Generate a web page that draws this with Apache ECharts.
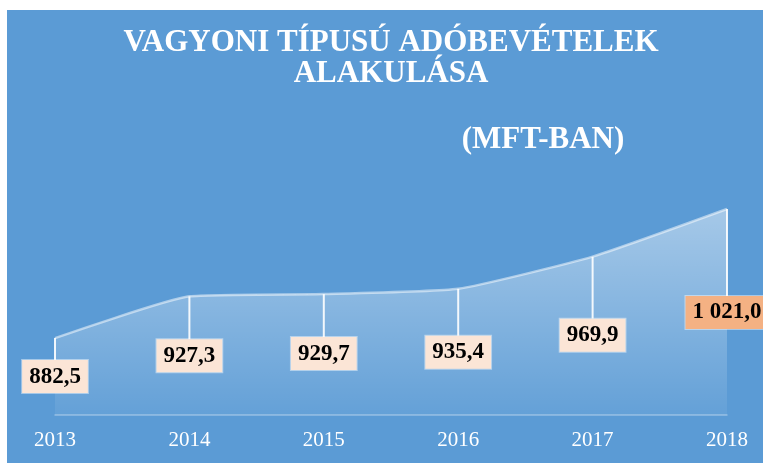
<!DOCTYPE html>
<html>
<head>
<meta charset="utf-8">
<script src="https://cdn.jsdelivr.net/npm/echarts@6/dist/echarts.min.js"></script>
<style>
    html, body { margin: 0; padding: 0; background: #fff; }
    #chart { width: 763px; height: 463px; }
</style>
</head>
<body>
<div id="chart"></div>
<script>
// data
const years = ['2013', '2014', '2015', '2016', '2017', '2018'];
const revenue = [882.5, 927.3, 929.7, 935.4, 969.9, 1021.0];

// layout: how far (px) each label box sits below its point
const labelGap = [22, 43, 43, 47, 62, 87];
const highlightIndex = 5;

const serif = 'Liberation Serif, Times New Roman, serif';

function huNumber(v) {
    let parts = v.toFixed(1).split('.');
    let intPart = parts[0].replace(/\B(?=(\d{3})+(?!\d))/g, ' ');
    return intPart + ',' + parts[1];
}

let myChart = echarts.init(document.getElementById('chart'));

let option = {
    backgroundColor: '#fff',
    animation: false,
    graphic: [
        {
            type: 'rect',
            z: -10,
            shape: { x: 7, y: 10, width: 756, height: 453 },
            style: { fill: '#5B9BD5' }
        }
    ],
    title: [
        {
            text: 'VAGYONI TÍPUSÚ ADÓBEVÉTELEK\nALAKULÁSA',
            left: 391,
            top: 27,
            textAlign: 'center',
            padding: 0,
            textStyle: {
                fontFamily: serif,
                fontWeight: 'bold',
                fontSize: 31,
                lineHeight: 31,
                color: '#fff'
            }
        },
        {
            text: '(MFT-BAN)',
            left: 543,
            top: 124,
            textAlign: 'center',
            padding: 0,
            textStyle: {
                fontFamily: serif,
                fontWeight: 'bold',
                fontSize: 31,
                lineHeight: 31,
                color: '#fff'
            }
        }
    ],
    grid: {
        left: 55,
        right: 36,
        top: 182,
        bottom: 48
    },
    xAxis: {
        type: 'category',
        data: years,
        boundaryGap: false,
        axisTick: { show: false },
        axisLine: {
            lineStyle: { color: 'rgba(255,255,255,0.35)', width: 1.5 }
        },
        axisLabel: {
            margin: 15,
            color: '#fff',
            fontFamily: serif,
            fontSize: 21
        }
    },
    yAxis: {
        type: 'value',
        min: 800,
        max: 1050,
        show: false
    },
    series: [
        {
            type: 'line',
            data: revenue,
            smooth: 0.15,
            symbol: 'none',
            lineStyle: { color: 'rgba(255,255,255,0.5)', width: 2.5 },
            areaStyle: {
                color: new echarts.graphic.LinearGradient(0, 0, 0, 1, [
                    { offset: 0, color: 'rgba(255,255,255,0.65)' },
                    { offset: 1, color: 'rgba(255,255,255,0.08)' }
                ])
            },
            z: 2
        },
        {
            type: 'custom',
            data: revenue.map((v, i) => [i, v]),
            clip: false,
            z: 5,
            renderItem(params, api) {
                let idx = params.dataIndex;
                let p = api.coord([api.value(0), api.value(1)]);
                let gap = labelGap[idx];
                return {
                    type: 'group',
                    children: [
                        {
                            type: 'line',
                            shape: { x1: p[0], y1: p[1], x2: p[0], y2: p[1] + gap },
                            style: { stroke: 'rgba(255,255,255,0.9)', lineWidth: 2 }
                        },
                        {
                            type: 'text',
                            x: p[0],
                            y: p[1] + gap,
                            style: {
                                text: huNumber(api.value(1)),
                                align: 'center',
                                verticalAlign: 'top',
                                fontFamily: serif,
                                fontWeight: 'bold',
                                fontSize: 23,
                                lineHeight: 23,
                                fill: '#000',
                                backgroundColor: idx === highlightIndex ? '#F4B183' : '#FBE5D6',
                                borderColor: 'rgba(255,255,255,0.45)',
                                borderWidth: 1,
                                padding: [5, 7, 5, 7]
                            }
                        }
                    ]
                };
            }
        }
    ]
};

myChart.setOption(option);
</script>
</body>
</html>
